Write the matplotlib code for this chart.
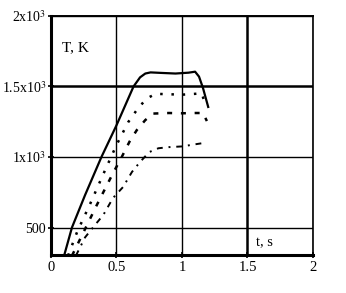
"""
Temperature vs time, four regimes
"""
import matplotlib
matplotlib.use("Agg")
import matplotlib.pyplot as plt

plt.rcParams["font.family"] = ["Liberation Serif", "DejaVu Serif"]
plt.rcParams["mathtext.fontset"] = "stix"

# curve 1 (solid)
t1 = [0.10, 0.16, 0.26, 0.385, 0.50, 0.63, 0.68, 0.72, 0.76, 0.85, 0.95, 1.05, 1.10, 1.13, 1.16, 1.20]
T1 = [300, 500, 730, 1000, 1225, 1500, 1565, 1592, 1600, 1596, 1592, 1598, 1605, 1570, 1490, 1355]

# curve 2 (dotted)
t2 = [0.13, 0.20, 0.30, 0.40, 0.50, 0.59, 0.66, 0.73, 0.80, 0.90, 1.00, 1.10, 1.15, 1.18]
T2 = [300, 470, 670, 880, 1085, 1248, 1340, 1415, 1448, 1445, 1442, 1448, 1452, 1370]

# curve 3 (dashed)
t3 = [0.16, 0.25, 0.35, 0.466, 0.54, 0.60, 0.655, 0.72, 0.78, 0.90, 1.00, 1.10, 1.16, 1.19]
T3 = [300, 470, 660, 872, 1000, 1110, 1191, 1262, 1308, 1312, 1310, 1312, 1312, 1255]

# curve 4 (dash-dot)
t4 = [0.19, 0.26, 0.336, 0.40, 0.473, 0.55, 0.618, 0.68, 0.75, 0.82, 0.90, 1.00, 1.10, 1.17]
T4 = [300, 430, 518, 590, 709, 787, 894, 965, 1035, 1062, 1070, 1075, 1090, 1100]

xticks = [0, 0.5, 1, 1.5, 2]
xlabels = ["0", "0.5", "1", "1.5", "2"]
yticks = [500, 1000, 1500, 2000]
ylabels = ["500", r"1x10$^3$", r"1.5x10$^3$", r"2x10$^3$"]

fig = plt.figure(figsize=(3.46, 2.93), dpi=100)
ax = fig.add_axes([0.1474, 0.1297, 0.7572, 0.8157])

ax.plot(t1, T1, color="black", lw=1.6, linestyle="-")
ax.plot(t2, T2, color="black", lw=1.8, linestyle=(0, (1, 3.5)))
ax.plot(t3, T3, color="black", lw=1.8, linestyle=(0, (2, 3.5)))
ax.plot(t4, T4, color="black", lw=1.4, linestyle=(0, (3, 3, 1, 3)))

ax.set_xlim(0, 2)
ax.set_ylim(305, 2000)
ax.set_xticks(xticks)
ax.set_xticklabels(xlabels, fontsize=10.5)
ax.set_yticks(yticks)
ax.set_yticklabels(ylabels, fontsize=10)
ax.tick_params(direction="inout", length=5, width=1.2, pad=2)
ax.tick_params(axis="y", pad=1)

ax.grid(True, color="black", linewidth=1.0)
# the 1.5 lines look heavier in the original
ax.get_ygridlines()[2].set_linewidth(1.8)
ax.get_xgridlines()[3].set_linewidth(1.8)
ax.spines["left"].set_linewidth(2.2)
ax.spines["bottom"].set_linewidth(2.2)
ax.spines["top"].set_linewidth(1.4)
ax.spines["right"].set_linewidth(1.2)

ax.text(0.19, 1773, "T, K", fontsize=11, ha="center", va="center")
ax.text(1.63, 390, "t, s", fontsize=10.5, ha="center", va="center")

fig.savefig("out.png", dpi=100)
